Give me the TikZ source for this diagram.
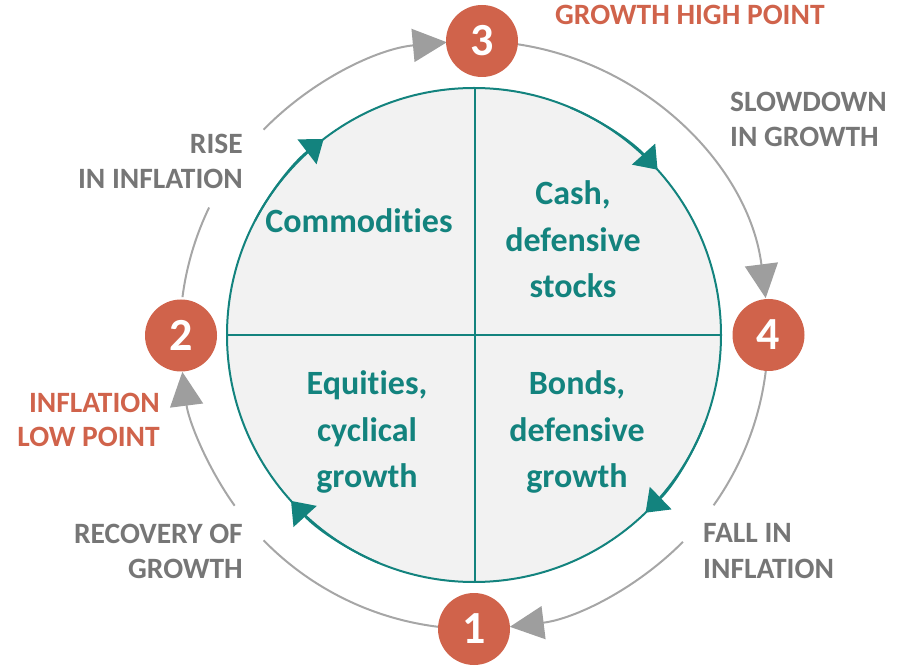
\documentclass[tikz,border=0pt]{standalone}
\usepackage{fontspec}
\setmainfont{Carlito}[Ligatures=NoCommon]
\usetikzlibrary{arrows.meta}
\definecolor{tealc}{RGB}{19,131,126}
\definecolor{orangec}{RGB}{208,99,75}
\definecolor{grayarc}{RGB}{166,166,166}
\definecolor{grayhead}{RGB}{158,158,158}
\definecolor{graytext}{RGB}{118,118,118}
\definecolor{fillc}{RGB}{242,242,242}
\begin{document}
\begin{tikzpicture}[x=1pt,y=1pt,
  numc/.style={circle,fill=orangec,minimum size=72pt,inner sep=0pt,text=white,font=\fontsize{46}{46}\selectfont\bfseries},
  outerline/.style={draw=grayarc,line width=2pt},
  outerarrow/.style={outerline,-{Triangle[length=34pt,width=33pt,color=grayhead]}},
  innerarrow/.style={draw=tealc,line width=2pt,-{Triangle[length=21pt,width=31pt,color=tealc]}},
  graylab/.style={inner sep=0pt,text=graytext,font=\fontsize{29.5}{35}\selectfont\bfseries},
  orangelab/.style={inner sep=0pt,text=orangec,font=\fontsize{29.5}{34}\selectfont\bfseries},
  quadlab/.style={inner sep=0pt,text=tealc,align=center,font=\fontsize{34}{46.5}\selectfont\bfseries}]
\useasboundingbox (0,0) rectangle (898,665);
\coordinate (C) at (474,330);
% inner circle
\draw[draw=tealc,fill=fillc,line width=2pt] (C) circle[radius=247];
\coordinate (ctop) at (475,577);
\coordinate (cbot) at (475,83);
\coordinate (cleft) at (227,330);
\coordinate (cright) at (721,330);
\draw[draw=tealc,line width=2pt] (ctop) -- (cbot);
\draw[draw=tealc,line width=2pt] (cleft) -- (cright);
% inner arrowheads (clockwise)
\draw[innerarrow] (C) ++(152.5:247) arc[start angle=152.5,end angle=127.5,radius=247];
\draw[innerarrow] (C) ++(67:247) arc[start angle=67,end angle=42,radius=247];
\draw[innerarrow] (C) ++(-21:247) arc[start angle=-21,end angle=-46,radius=247];
\draw[innerarrow] (C) ++(-112.8:247) arc[start angle=-112.8,end angle=-137.8,radius=247];
% outer arcs
\draw[outerarrow] (C) ++(81.4:294) arc[start angle=81.4,end angle=7.2,radius=294];
\draw[outerline] (C) ++(-7:294) arc[start angle=-7,end angle=-35.4,radius=294];
\draw[outerarrow] (C) ++(-44.7:294) arc[start angle=-44.7,end angle=-83,radius=294];
\draw[outerline] (C) ++(-97:294) arc[start angle=-97,end angle=-135.7,radius=294];
\draw[outerarrow] (C) ++(-144.5:294) arc[start angle=-144.5,end angle=-172.8,radius=294];
\draw[outerline] (C) ++(172.6:294) arc[start angle=172.6,end angle=154.3,radius=294];
\draw[outerarrow] (C) ++(135.7:294) arc[start angle=135.7,end angle=95.3,radius=294];
% numbered circles
\node[numc] (n3) at (482,624) {3};
\node[numc] (n4) at (768.5,330) {4};
\node[numc] (n1) at (474,36) {1};
\node[numc] (n2) at (181,329.5) {2};
% outer labels (base = last line)
\node[orangelab,anchor=base west] (ghp) at (555,640) {GROWTH HIGH POINT};
\node[graylab,align=left,anchor=base west] (slow) at (730,518) {SLOWDOWN\\IN GROWTH};
\node[graylab,align=right,anchor=base east] (rise) at (243,476) {RISE\\IN INFLATION};
\node[orangelab,align=right,anchor=base east] (ilp) at (160,218) {INFLATION\\LOW POINT};
\node[graylab,align=right,anchor=base east] (rec) at (243,86) {RECOVERY OF\\GROWTH};
\node[graylab,align=left,anchor=base west] (fall) at (703,87) {FALL IN\\INFLATION};
% quadrant labels
\node[quadlab,anchor=base] (comm) at (359,432) {Commodities};
\node[quadlab,anchor=base] (cash) at (573,367) {Cash,\\defensive\\stocks};
\node[quadlab,anchor=base] (equ) at (367,177) {Equities,\\cyclical\\growth};
\node[quadlab,anchor=base] (bond) at (577,177) {Bonds,\\defensive\\growth};
\end{tikzpicture}
\end{document}
